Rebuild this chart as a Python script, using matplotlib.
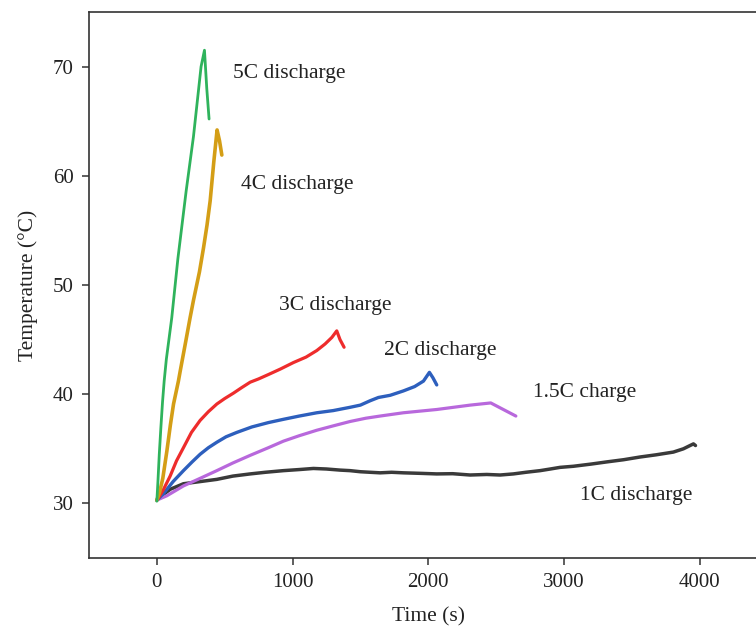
import matplotlib
matplotlib.use("Agg")
import matplotlib.pyplot as plt

plt.rcParams['font.family'] = ['Liberation Serif', 'DejaVu Serif']

# 5C discharge
t_5c = [0, 8, 18, 30, 42, 54, 70, 90, 110, 155, 216, 270, 326, 351, 368, 385]
T_5c = [30.2, 32.0, 34.5, 37.0, 39.3, 41.2, 43.2, 45.1, 47.0, 52.4, 58.6, 63.6, 70.0, 71.5, 68.0, 65.2]

# 4C discharge
t_4c = [0, 20, 44, 74, 100, 123, 159, 172, 214, 245, 270, 314, 344, 370, 393, 420, 444, 462, 479]
T_4c = [30.3, 31.0, 32.3, 34.8, 37.2, 39.1, 41.2, 42.1, 44.9, 47.0, 48.6, 51.2, 53.4, 55.5, 57.7, 61.3, 64.2, 63.2, 61.9]

# 3C discharge
t_3c = [0, 12, 50, 98, 145, 196, 255, 319, 380, 442, 500, 565, 625, 688, 750, 822, 910, 1007, 1100, 1179, 1240,
        1290, 1326, 1350, 1380]
T_3c = [30.3, 30.5, 31.3, 32.5, 33.9, 35.1, 36.5, 37.6, 38.4, 39.1, 39.6, 40.1, 40.6, 41.1, 41.4, 41.8, 42.3, 42.9,
        43.4, 44.0, 44.6, 45.2, 45.8, 45.0, 44.3]

# 2C discharge
t_2c = [0, 49, 120, 196, 260, 319, 380, 442, 510, 589, 700, 822, 933, 1050, 1179, 1300, 1424, 1500, 1572,
        1633, 1720, 1817, 1900, 1965, 2009, 2035, 2063]
T_2c = [30.3, 30.9, 32.0, 33.0, 33.8, 34.5, 35.1, 35.6, 36.1, 36.5, 37.0, 37.4, 37.7, 38.0, 38.3, 38.5, 38.8, 39.0, 39.4,
        39.7, 39.9, 40.3, 40.7, 41.2, 42.0, 41.5, 40.85]

# 1.5C charge
t_15c = [0, 74, 196, 320, 442, 560, 688, 822, 933, 1050, 1179, 1300, 1424, 1540, 1646, 1817, 2063, 2309, 2461, 2646]
T_15c = [30.3, 30.7, 31.6, 32.3, 33.0, 33.7, 34.4, 35.1, 35.7, 36.2, 36.7, 37.1, 37.5, 37.8, 38.0, 38.3, 38.6, 39.0, 39.2, 38.0]

# 1C discharge
t_1c = [0, 24, 100, 196, 320, 442, 560, 688, 800, 933, 1050, 1154, 1250, 1350, 1424, 1500, 1572, 1646, 1730, 1817,
        1950, 2063, 2180, 2309, 2432, 2530, 2628, 2720, 2825, 2900, 2972, 3070, 3200, 3316, 3440, 3562, 3680,
        3807, 3881, 3930, 3955, 3970]
T_1c = [30.3, 30.6, 31.3, 31.8, 32.0, 32.2, 32.5, 32.7, 32.85, 33.0, 33.1, 33.2, 33.15, 33.05, 33.0, 32.9, 32.85, 32.8,
        32.85, 32.8, 32.75, 32.7, 32.72, 32.6, 32.65, 32.6, 32.7, 32.85, 33.0, 33.15, 33.3, 33.4, 33.6, 33.8, 34.0,
        34.25, 34.45, 34.7, 35.0, 35.3, 35.45, 35.3]

series = [
    (t_1c, T_1c, '#3a3a3a', 2.5),
    (t_15c, T_15c, '#b868dc', 2.3),
    (t_2c, T_2c, '#2d5fbd', 2.4),
    (t_3c, T_3c, '#ee2c2c', 2.3),
    (t_4c, T_4c, '#d49e16', 2.6),
    (t_5c, T_5c, '#2fb35c', 2.0),
]

labels = ['5C discharge', '4C discharge', '3C discharge', '2C discharge', '1.5C charge', '1C discharge']
label_t = [562, 621, 901, 1676, 2773, 3120]
label_T = [69.4, 59.2, 48.1, 44.0, 40.2, 30.7]

xticks = [0, 1000, 2000, 3000, 4000]
yticks = [30, 40, 50, 60, 70]

fig = plt.figure(figsize=(7.56, 6.33), dpi=100)
ax = fig.add_axes([89 / 756, 75 / 633, (767.4 - 89) / 756, 546 / 633])

for t, T, c, lw in series:
    ax.plot(t, T, color=c, lw=lw, solid_capstyle='round', solid_joinstyle='round')

for lab, lt, lT in zip(labels, label_t, label_T):
    ax.text(lt, lT, lab, fontsize=15.5, color='#222222', ha='left', va='center')

ax.set_xlim(-500, 4500)
ax.set_ylim(25, 75)
ax.set_xticks(xticks)
ax.set_yticks(yticks)
ax.tick_params(direction='out', length=5, width=1.1, colors='#333333', labelsize=15,
               labelcolor='#222222', pad=6)
for s in ax.spines.values():
    s.set_color('#333333')
    s.set_linewidth(1.2)

ax.set_xlabel('Time (s)', fontsize=15.5, color='#222222', labelpad=11)
ax.set_ylabel('Temperature (°C)', fontsize=15.5, color='#222222', labelpad=11)

fig.savefig('out.png', dpi=100)
